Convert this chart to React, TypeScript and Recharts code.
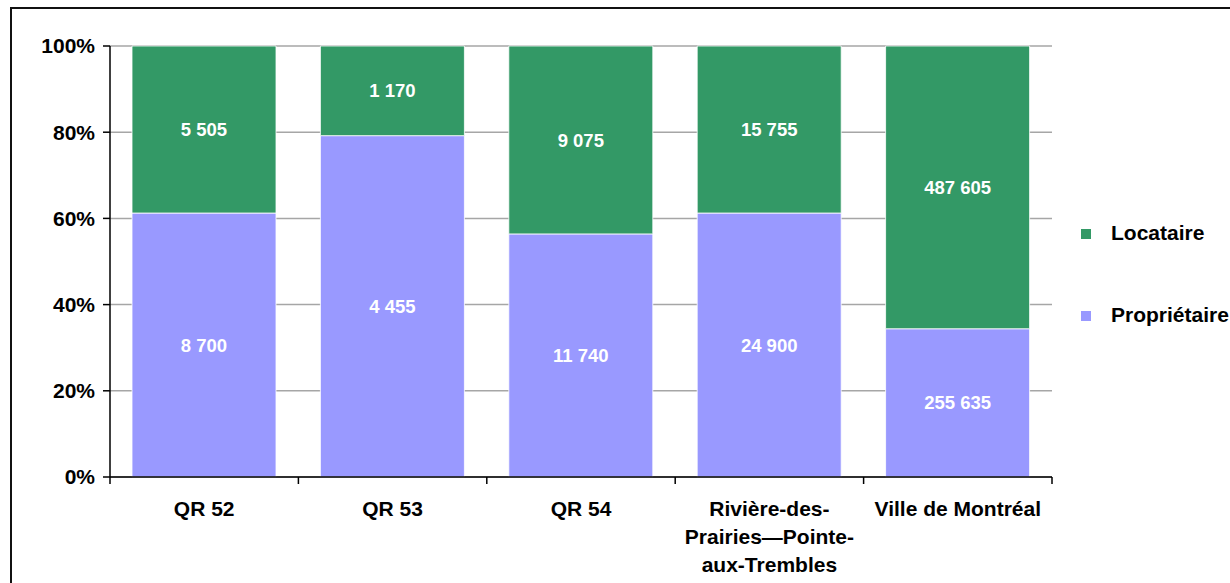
import React from 'react';
import {
  BarChart,
  Bar,
  XAxis,
  YAxis,
  CartesianGrid,
  LabelList,
  Legend,
} from 'recharts';

// Ménages selon le mode d'occupation
const categories = [
  'QR 52',
  'QR 53',
  'QR 54',
  'Rivière-des-Prairies—Pointe-aux-Trembles',
  'Ville de Montréal',
];
const proprietaire = [8700, 4455, 11740, 24900, 255635];
const locataire = [5505, 1170, 9075, 15755, 487605];
const yTicks = [0, 0.2, 0.4, 0.6, 0.8, 1];

const GREEN = '#339966';
const PURPLE = '#9999FF';
const FONT = '"Liberation Sans", Arial, Helvetica, sans-serif';

const WIDTH = 1230;
const HEIGHT = 583;
const PLOT_LEFT = 110;
const PLOT_RIGHT = 1052;
const PLOT_TOP = 46;
const PLOT_BOTTOM = 477;
const X_AXIS_HEIGHT = 100;

const data = categories.map((name, i) => ({
  name,
  proprietaire: proprietaire[i],
  locataire: locataire[i],
}));

const formatThousands = (v: any) =>
  String(v).replace(/\B(?=(\d{3})+(?!\d))/g, ' ');

// Greedy wrap on spaces and hyphens
const wrapLabel = (label: string, maxChars = 17): string[] => {
  const tokens = label.match(/[^\s-]+-?\s?|-/g) || [label];
  const lines: string[] = [];
  let cur = '';
  tokens.forEach((t) => {
    const candidate = cur + t;
    if (cur && candidate.trim().length > maxChars) {
      lines.push(cur.trim());
      cur = t;
    } else {
      cur = candidate;
    }
  });
  if (cur.trim()) lines.push(cur.trim());
  return lines;
};

const band = (PLOT_RIGHT - PLOT_LEFT) / categories.length;

const CategoryTick = (props: any) => {
  const { x, y, payload, index } = props;
  const lines = wrapLabel(String(payload.value));
  const isLast = index === categories.length - 1;
  return (
    <g>
      <line x1={x - band / 2} x2={x - band / 2} y1={y} y2={y + 7} stroke="#000" strokeWidth={1.5} />
      {isLast && (
        <line x1={x + band / 2} x2={x + band / 2} y1={y} y2={y + 7} stroke="#000" strokeWidth={1.5} />
      )}
      <text
        x={x}
        y={y + 39}
        textAnchor="middle"
        fontFamily={FONT}
        fontWeight="bold"
        fontSize={21}
        fill="#000"
      >
        {lines.map((ln, i) => (
          <tspan key={i} x={x} dy={i === 0 ? 0 : 28}>
            {ln}
          </tspan>
        ))}
      </text>
    </g>
  );
};

const legendItems = [
  { label: 'Locataire', color: GREEN },
  { label: 'Propriétaire', color: PURPLE },
];

const LegendContent = () => (
  <div style={{ position: 'relative', width: 160, height: 120 }}>
    {legendItems.map((it, i) => (
      <div key={it.label}>
        <div
          style={{
            position: 'absolute',
            left: 6,
            top: 11 + i * 82,
            width: 10,
            height: 10,
            background: it.color,
          }}
        />
        <div
          style={{
            position: 'absolute',
            left: 36,
            top: 3 + i * 82,
            fontFamily: FONT,
            fontWeight: 'bold',
            fontSize: 21,
            lineHeight: '24px',
            color: '#000',
            whiteSpace: 'nowrap',
          }}
        >
          {it.label}
        </div>
      </div>
    ))}
  </div>
);

export default function App() {
  return (
    <div
      style={{
        position: 'absolute',
        left: 0,
        top: 0,
        width: WIDTH,
        height: HEIGHT,
        overflow: 'hidden',
        background: '#fff',
      }}
    >
      <div
        style={{
          position: 'absolute',
          left: 10,
          top: 7,
          width: WIDTH + 40,
          height: HEIGHT + 40,
          border: '2px solid #111',
          boxSizing: 'border-box',
        }}
      />
      <BarChart
        width={WIDTH}
        height={HEIGHT}
        data={data}
        stackOffset="expand"
        barCategoryGap={22}
        margin={{
          top: PLOT_TOP,
          right: WIDTH - PLOT_RIGHT,
          bottom: HEIGHT - PLOT_BOTTOM - X_AXIS_HEIGHT,
          left: 0,
        }}
        style={{ position: 'absolute', left: 0, top: 0 }}
      >
        <CartesianGrid vertical={false} stroke="#a6a6a6" strokeWidth={1.5} />
        <XAxis
          dataKey="name"
          height={X_AXIS_HEIGHT}
          interval={0}
          tickLine={false}
          tickSize={0}
          tickMargin={0}
          axisLine={{ stroke: '#000', strokeWidth: 1.5 }}
          tick={<CategoryTick />}
        />
        <YAxis
          width={PLOT_LEFT}
          domain={[0, 1]}
          ticks={yTicks}
          tickSize={7}
          tickMargin={8}
          axisLine={{ stroke: '#000', strokeWidth: 1.5 }}
          tickLine={{ stroke: '#000', strokeWidth: 1.5 }}
          tickFormatter={(v: number) => `${Math.round(v * 100)}%`}
          tick={{ fontFamily: FONT, fontWeight: 'bold', fontSize: 21, fill: '#000' }}
        />
        <YAxis
          yAxisId="frame"
          orientation="right"
          width={0}
          domain={[0, 1]}
          tick={false}
          tickLine={false}
          axisLine={{ stroke: '#999', strokeWidth: 2 }}
        />
        <Legend
          layout="vertical"
          align="center"
          verticalAlign="middle"
          content={<LegendContent />}
          wrapperStyle={{ left: 1075, top: 218, width: 160, height: 120 }}
        />
        <Bar
          dataKey="proprietaire"
          name="Propriétaire"
          stackId="a"
          fill={PURPLE}
          stroke="#fff"
          strokeWidth={0.8}
          isAnimationActive={false}
        >
          <LabelList
            dataKey="proprietaire"
            position="center"
            formatter={formatThousands}
            fill="#fff"
            fontFamily={FONT}
            fontWeight="bold"
            fontSize={18.5}
          />
        </Bar>
        <Bar
          dataKey="locataire"
          name="Locataire"
          stackId="a"
          fill={GREEN}
          stroke="#fff"
          strokeWidth={0.8}
          isAnimationActive={false}
        >
          <LabelList
            dataKey="locataire"
            position="center"
            formatter={formatThousands}
            fill="#fff"
            fontFamily={FONT}
            fontWeight="bold"
            fontSize={18.5}
          />
        </Bar>
      </BarChart>
    </div>
  );
}
